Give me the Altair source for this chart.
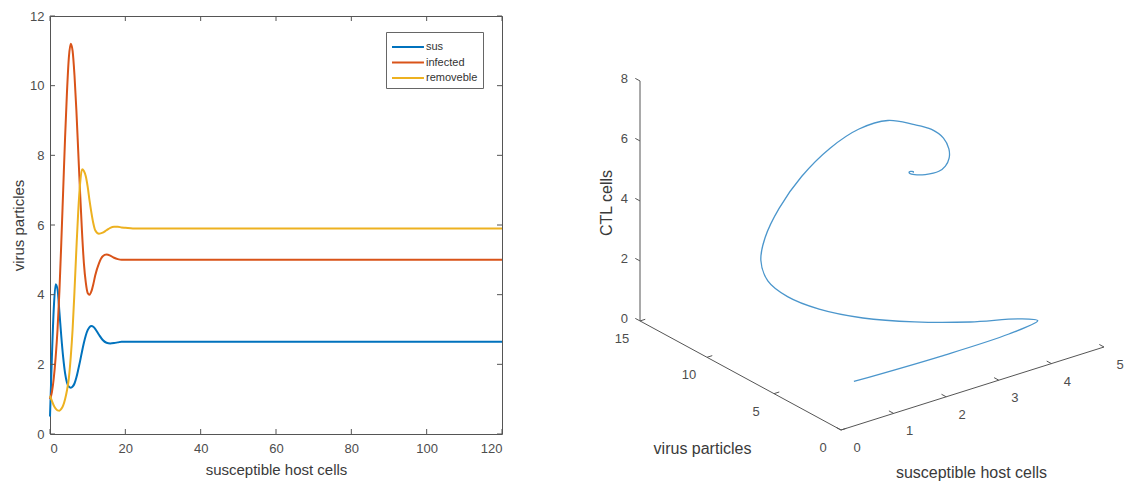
import altair as alt
import pandas as pd

# ---------------- data ----------------
t = [0, 0.5, 1, 1.5, 2, 2.5, 3, 3.5, 4, 4.5, 5, 5.5, 6, 6.5, 7, 7.5, 8, 8.5, 9, 9.5,
     10, 10.5, 11, 11.5, 12, 13, 14, 15, 16, 17, 18, 19, 20, 22, 25, 30, 40, 60, 80, 100, 120]
sus = [0.5, 2.2, 3.6, 4.3, 4.15, 3.5, 2.8, 2.2, 1.75, 1.48, 1.36, 1.33, 1.36, 1.45, 1.62, 1.85,
       2.1, 2.37, 2.62, 2.83, 2.98, 3.07, 3.1, 3.08, 3.02, 2.85, 2.7, 2.62, 2.6, 2.61, 2.63, 2.65,
       2.65, 2.65, 2.65, 2.65, 2.65, 2.65, 2.65, 2.65, 2.65]
infected = [1.0, 1.2, 1.6, 2.2, 3.0, 4.1, 5.5, 7.0, 8.5, 9.8, 10.8, 11.2, 11.0, 10.3, 9.3, 8.1,
            6.9, 5.8, 4.9, 4.35, 4.05, 4.0, 4.1, 4.3, 4.55, 4.9, 5.1, 5.15, 5.12, 5.06, 5.02, 5.0,
            5.0, 5.0, 5.0, 5.0, 5.0, 5.0, 5.0, 5.0, 5.0]
removeble = [1.1, 0.95, 0.82, 0.73, 0.68, 0.67, 0.72, 0.82, 1.0, 1.25, 1.6, 2.2, 3.0, 4.1, 5.3, 6.4,
             7.2, 7.6, 7.55, 7.4, 7.1, 6.7, 6.35, 6.05, 5.85, 5.75, 5.78, 5.85, 5.92, 5.95, 5.95, 5.93,
             5.92, 5.9, 5.9, 5.9, 5.9, 5.9, 5.9, 5.9, 5.9]

series_names = ["sus", "infected", "removeble"]
series_colors = ["#0072BD", "#D95319", "#EDB120"]

x_ticks = [0, 20, 40, 60, 80, 100, 120]
y_ticks = [0, 2, 4, 6, 8, 10, 12]

x3_ticks = [0, 1, 2, 3, 4, 5]      # susceptible host cells
y3_ticks = [0, 5, 10, 15]          # virus particles
z3_ticks = [0, 2, 4, 6, 8]         # CTL cells

# ---------------- style / layout ----------------
FONT = "Liberation Sans"
TXT = "#4d4d4d"
TTL = "#3a3a3a"
AX = "#555555"
W1, H1 = 452, 418
W2, H2 = 540, 418
LBL = 13
TTS = 15

# ---------------- left panel ----------------
long = pd.DataFrame({
    "t": t * 3,
    "value": sus + infected + removeble,
    "series": [series_names[0]] * len(t) + [series_names[1]] * len(t) + [series_names[2]] * len(t),
})

xenc = alt.X("t:Q", scale=alt.Scale(domain=[0, 120], nice=False, zero=False),
             axis=alt.Axis(values=x_ticks, title="susceptible host cells", grid=False, ticks=False,
                           domain=False, labelPadding=8, titlePadding=7, labelFontSize=LBL,
                           titleFontSize=TTS, labelColor=TXT, titleColor=TTL,
                           titleFontWeight="normal", labelFont=FONT, titleFont=FONT))
yenc = alt.Y("value:Q", scale=alt.Scale(domain=[0, 12], nice=False, zero=False),
             axis=alt.Axis(values=y_ticks, title="virus particles", grid=False, ticks=False,
                           domain=False, labelPadding=6, titlePadding=3, labelFontSize=LBL,
                           titleFontSize=TTS, labelColor=TXT, titleColor=TTL,
                           titleFontWeight="normal", labelFont=FONT, titleFont=FONT))

lines = alt.Chart(long).mark_line(strokeWidth=2, interpolate="monotone").encode(
    x=xenc, y=yenc,
    color=alt.Color("series:N", sort=series_names,
                    scale=alt.Scale(domain=series_names, range=series_colors),
                    legend=alt.Legend(title=None, orient="none", legendX=336, legendY=16,
                                      fillColor="white", strokeColor="#666666", padding=5,
                                      symbolType="M-1,0H2.55", symbolSize=324,
                                      symbolStrokeWidth=2, labelOffset=15, rowPadding=0.5,
                                      labelFontSize=11, labelColor="#333333", labelFont=FONT)),
    detail="series:N",
)

xt = pd.DataFrame({"t": x_ticks})
yt = pd.DataFrame({"value": y_ticks})
tick_bottom = alt.Chart(xt).mark_rule(color=AX, strokeWidth=1).encode(
    x=alt.X("t:Q"), y=alt.value(H1), y2=alt.value(H1 - 5))
tick_top = alt.Chart(xt).mark_rule(color=AX, strokeWidth=1).encode(
    x=alt.X("t:Q"), y=alt.value(0), y2=alt.value(5))
tick_left = alt.Chart(yt).mark_rule(color=AX, strokeWidth=1).encode(
    y=alt.Y("value:Q"), x=alt.value(0), x2=alt.value(5))
tick_right = alt.Chart(yt).mark_rule(color=AX, strokeWidth=1).encode(
    y=alt.Y("value:Q"), x=alt.value(W1), x2=alt.value(W1 - 5))

left = alt.layer(lines, tick_bottom, tick_top, tick_left, tick_right).properties(
    width=W1, height=H1, view=alt.ViewBackground(stroke=AX, strokeWidth=1))

# ---------------- right panel (3-D projection) ----------------
# screen-pixel projection vectors of unit steps along each axis (u right, v up)
EX = (52.6, 16.6)
EY = (-13.4, 7.27)
EZ = (0.0, 30.0)


def proj(x, y, z):
    return (EX[0] * x + EY[0] * y + EZ[0] * z, EX[1] * x + EY[1] * y + EZ[1] * z)


curve = pd.DataFrame({"t": t,
                      "u": [proj(a, b, c)[0] for a, b, c in zip(sus, infected, removeble)],
                      "v": [proj(a, b, c)[1] for a, b, c in zip(sus, infected, removeble)]})

xmax, ymax, zmax = max(x3_ticks), max(y3_ticks), max(z3_ticks)
seg3 = [((0, 0, 0), (xmax, 0, 0)), ((0, 0, 0), (0, ymax, 0)), ((0, ymax, 0), (0, ymax, zmax))]
# tick marks: x ticks point along +y, y ticks along +x, z ticks along +y
for xv in x3_ticks:
    seg3.append(((xv, 0, 0), (xv, 0.35, 0)))
for yv in y3_ticks:
    seg3.append(((0, yv, 0), (0.1, yv, 0)))
for zv in z3_ticks:
    seg3.append(((0, ymax, zv), (0, ymax + 0.35, zv)))
segs = pd.DataFrame([{"u": proj(*a)[0], "v": proj(*a)[1], "u2": proj(*b)[0], "v2": proj(*b)[1]}
                     for a, b in seg3])

xl = pd.DataFrame({"u": [proj(v, 0, 0)[0] for v in x3_ticks],
                   "v": [proj(v, 0, 0)[1] for v in x3_ticks],
                   "label": [str(v) for v in x3_ticks]})
yl = pd.DataFrame({"u": [proj(0, v, 0)[0] for v in y3_ticks],
                   "v": [proj(0, v, 0)[1] for v in y3_ticks],
                   "label": [str(v) for v in y3_ticks]})
zl = pd.DataFrame({"u": [proj(0, ymax, v)[0] for v in z3_ticks],
                   "v": [proj(0, ymax, v)[1] for v in z3_ticks],
                   "label": [str(v) for v in z3_ticks]})

tx = pd.DataFrame({"u": [proj(xmax / 2, 0, 0)[0]], "v": [proj(xmax / 2, 0, 0)[1]],
                   "label": ["susceptible host cells"]})
ty = pd.DataFrame({"u": [proj(0, ymax / 2, 0)[0]], "v": [proj(0, ymax / 2, 0)[1]],
                   "label": ["virus particles"]})
tz = pd.DataFrame({"u": [proj(0, ymax, zmax / 2)[0]], "v": [proj(0, ymax, zmax / 2)[1]],
                   "label": ["CTL cells"]})

U = alt.X("u:Q", scale=alt.Scale(domain=[-240, 300], nice=False, zero=False), axis=None)
V = alt.Y("v:Q", scale=alt.Scale(domain=[-4, 414], nice=False, zero=False), axis=None)

r_curve = alt.Chart(curve).mark_line(color="#4b96cc", strokeWidth=1.3,
                                     interpolate="catmull-rom").encode(
    x=U, y=V, order=alt.Order("t:Q"))
r_axes = alt.Chart(segs).mark_rule(color=AX, strokeWidth=1).encode(
    x=U, y=V, x2="u2:Q", y2="v2:Q")
r_xl = alt.Chart(xl).mark_text(fontSize=LBL, font=FONT, color=TXT, dx=16, dy=18,
                               align="center", baseline="middle").encode(x=U, y=V, text="label:N")
r_yl = alt.Chart(yl).mark_text(fontSize=LBL, font=FONT, color=TXT, dx=-18, dy=18,
                               align="center", baseline="middle").encode(x=U, y=V, text="label:N")
r_zl = alt.Chart(zl).mark_text(fontSize=LBL, font=FONT, color=TXT, dx=-12, dy=-2,
                               align="right", baseline="middle").encode(x=U, y=V, text="label:N")
r_tx = alt.Chart(tx).mark_text(fontSize=16, font=FONT, color=TTL, dx=-1, dy=84,
                               align="center", baseline="middle").encode(x=U, y=V, text="label:N")
r_ty = alt.Chart(ty).mark_text(fontSize=16, font=FONT, color=TTL, dx=-38, dy=74,
                               align="center", baseline="middle").encode(x=U, y=V, text="label:N")
r_tz = alt.Chart(tz).mark_text(fontSize=16, font=FONT, color=TTL, dx=-2, dy=-33,
                               angle=270, align="center", baseline="middle").encode(
    x=U, y=V, text="label:N")

right = alt.layer(r_axes, r_curve, r_xl, r_yl, r_zl, r_tx, r_ty, r_tz).properties(
    width=W2, height=H2, view=alt.ViewBackground(stroke=None))

chart = alt.hconcat(left, right, spacing=99, bounds="flush").properties(
    padding={"left": 11, "top": 9, "right": 0, "bottom": 0},
    background="white",
).configure(font=FONT)

chart.save("out.html", embed_options={"renderer": "svg", "actions": False})
